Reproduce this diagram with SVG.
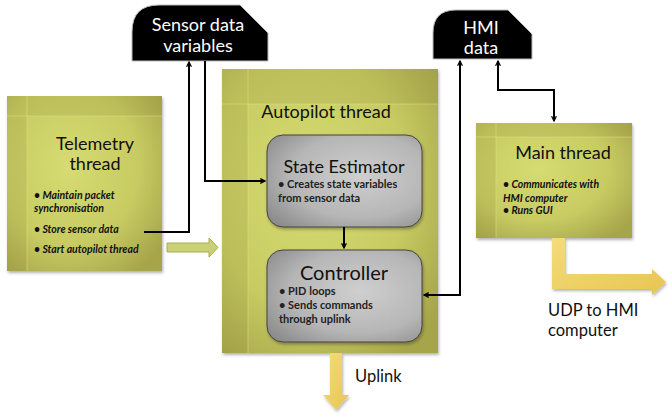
<svg xmlns="http://www.w3.org/2000/svg" width="672" height="417" viewBox="0 0 672 417">
<style>
.title{font-family:Lato,"Liberation Sans",sans-serif;font-size:18px;fill:#111;text-anchor:middle}
.lbl{font-family:Lato,"Liberation Sans",sans-serif;font-size:16.5px;fill:#111}
.wt{font-family:Lato,"Liberation Sans",sans-serif;font-size:18px;fill:#fff;text-anchor:middle}
.bi{font-family:Lato,"Liberation Sans",sans-serif;font-size:10.5px;font-style:italic;font-weight:bold;fill:#111}
.bg{font-family:Lato,"Liberation Sans",sans-serif;font-size:11px;font-weight:bold;fill:#222}
.thread{fill:url(#olive);filter:url(#sh)}
.grid{stroke:#e6e88c;stroke-opacity:0.45;stroke-width:1;fill:none}
.dark{fill:#7d7a30;fill-opacity:0.15}
.gray{fill:url(#grayg);stroke:#444;stroke-width:1;filter:url(#sh)}
.blk{fill:#000;stroke:#bbb;stroke-width:1}
.con{fill:none;stroke:#000;stroke-width:2}
.yel{fill:url(#yelv);filter:url(#sh)}
</style>
<defs>
<radialGradient id="olive" cx="0.4" cy="0.4" r="0.75">
<stop offset="0" stop-color="#d6db72"/>
<stop offset="0.6" stop-color="#c7cb62"/>
<stop offset="1" stop-color="#a6a54a"/>
</radialGradient>
<radialGradient id="grayg" cx="0.6" cy="0.45" r="0.75">
<stop offset="0" stop-color="#cfcfcf"/>
<stop offset="0.6" stop-color="#b6b6b6"/>
<stop offset="1" stop-color="#8a8a8a"/>
</radialGradient>
<linearGradient id="yelv" x1="0" y1="0" x2="1" y2="1">
<stop offset="0" stop-color="#f4dc7a"/>
<stop offset="1" stop-color="#e8c552"/>
</linearGradient>
<filter id="sh" x="-10%" y="-10%" width="125%" height="125%">
<feDropShadow dx="1" dy="2" stdDeviation="1.5" flood-color="#000" flood-opacity="0.3"/>
</filter>
<marker id="ah" viewBox="0 0 10 10" refX="9" refY="5" markerWidth="6" markerHeight="6" orient="auto-start-reverse" markerUnits="userSpaceOnUse">
<path d="M1,1 L9,5 L1,9" fill="none" stroke="#000" stroke-width="2"/>
</marker>
</defs>
<rect width="672" height="417" fill="#fff"/>

<g id="telemetry">
<rect class="thread" x="7" y="96" width="155" height="175"/>
<rect class="dark" x="7" y="96" width="20" height="175"/>
<rect class="dark" x="27" y="96" width="135" height="20"/>
<line class="grid" x1="27" y1="96" x2="27" y2="271"/>
<line class="grid" x1="7" y1="116" x2="162" y2="116"/>
<text class="title" x="95" y="150">Telemetry</text>
<text class="title" x="95" y="170">thread</text>
<text class="bi" x="34" y="199">• Maintain packet</text>
<text class="bi" x="34" y="212">synchronisation</text>
<text class="bi" x="34" y="233">• Store sensor data</text>
<text class="bi" x="34" y="253">• Start autopilot thread</text>
</g>

<g id="autopilot">
<rect class="thread" x="222" y="69" width="216" height="284"/>
<rect class="dark" x="222" y="69" width="26" height="284"/>
<rect class="dark" x="248" y="69" width="190" height="35"/>
<line class="grid" x1="248" y1="69" x2="248" y2="353"/>
<line class="grid" x1="222" y1="104" x2="438" y2="104"/>
<text class="title" x="326" y="118">Autopilot  thread</text>
</g>

<g id="state-estimator">
<rect class="gray" x="267" y="135" width="155" height="92" rx="16"/>
<text class="title" x="344" y="173">State Estimator</text>
<text class="bg" x="278" y="188">• Creates state variables</text>
<text class="bg" x="278" y="202">from sensor data</text>
</g>

<g id="controller">
<rect class="gray" x="267" y="250" width="155" height="92" rx="16"/>
<text class="title" x="344" y="280" style="font-size:20px">Controller</text>
<text class="bg" x="279" y="295">• PID loops</text>
<text class="bg" x="279" y="309">• Sends commands</text>
<text class="bg" x="279" y="323">through uplink</text>
</g>

<g id="main-thread">
<rect class="thread" x="476" y="123" width="156" height="115"/>
<rect class="dark" x="476" y="123" width="20" height="115"/>
<rect class="dark" x="496" y="123" width="136" height="14"/>
<line class="grid" x1="496" y1="123" x2="496" y2="238"/>
<line class="grid" x1="476" y1="137" x2="632" y2="137"/>
<text class="title" x="563" y="159">Main thread</text>
<text class="bi" x="503" y="188">• Communicates with</text>
<text class="bi" x="503" y="202">HMI computer</text>
<text class="bi" x="503" y="214">• Runs GUI</text>
</g>

<g id="sensor-data">
<path class="blk" d="M132,61 L132,32 Q132,5 159,5 L240,5 L268,33 L268,61 Z"/>
<text class="wt" x="198" y="31">Sensor data</text>
<text class="wt" x="198" y="52">variables</text>
</g>

<g id="hmi-data">
<path class="blk" d="M433,59 L433,33 Q433,10 456,10 L508,10 L532,34 L532,59 Z"/>
<text class="wt" x="481" y="34">HMI</text>
<text class="wt" x="481" y="54">data</text>
</g>

<g id="connectors">
<path class="con" d="M144,232 H189 V62" marker-end="url(#ah)"/>
<path class="con" d="M205,61 V181 H265" marker-end="url(#ah)"/>
<path class="con" d="M344,227 V248" marker-end="url(#ah)"/>
<path class="con" d="M460,61 V295 H424" marker-start="url(#ah)" marker-end="url(#ah)"/>
<path class="con" d="M498,61 V90 H554 V121" marker-start="url(#ah)" marker-end="url(#ah)"/>
<path d="M167,243 H209 V238 L218,247.5 L209,257 V252 H167 Z" fill="#c9d078" stroke="#a8ae50" stroke-width="1"/>
<path class="yel" d="M330,353 H342 V395 H349 L336,410 L323,395 H330 Z"/>
<path class="yel" d="M552,238 H565 V274 H652 V269 L666,282 L652,295 V289 H552 Z"/>
</g>

<text class="lbl" x="355" y="382">Uplink</text>
<text class="lbl" x="548" y="316">UDP to HMI</text>
<text class="lbl" x="548" y="336">computer</text>
</svg>
